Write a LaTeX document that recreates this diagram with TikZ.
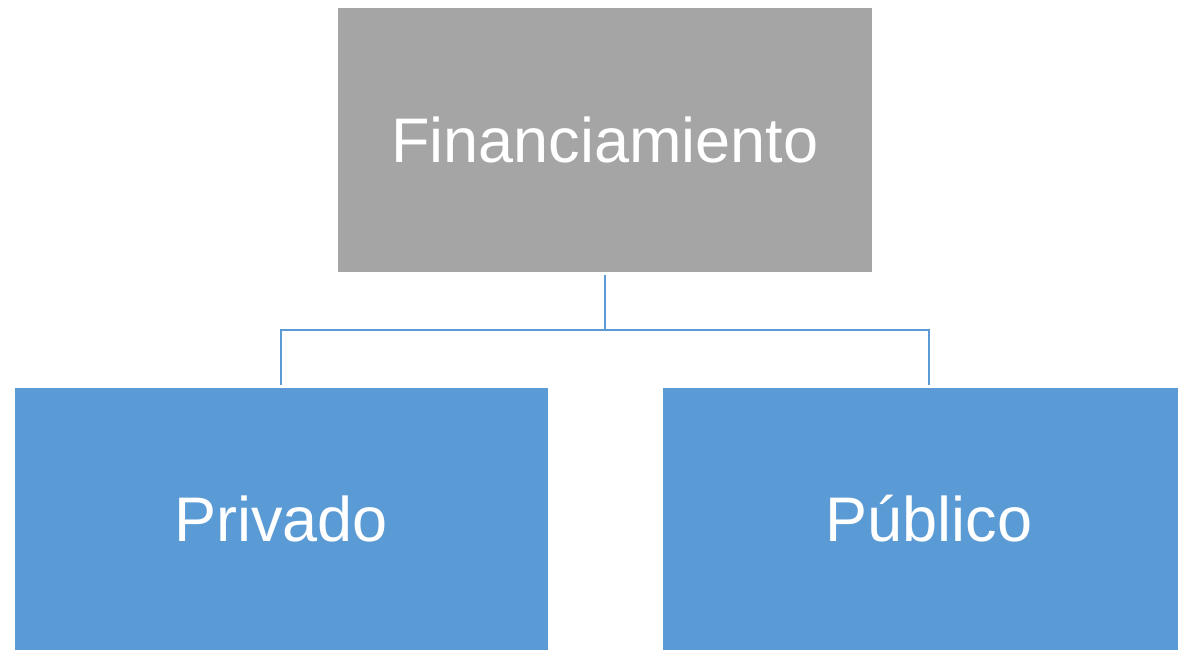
\documentclass[tikz,border=0pt]{standalone}
\usepackage{fontspec}
\setmainfont{Liberation Sans}
\usepackage{xcolor}
\usepackage{tikz}
\definecolor{boxgray}{HTML}{A5A5A5}
\definecolor{boxblue}{HTML}{5B9BD5}

\begin{document}
\begin{tikzpicture}[
  x=1pt, y=1pt,
  every node/.style={rectangle, inner sep=0pt, text=white, font=\fontsize{63}{70}\selectfont},
  level/.style={sibling distance=648pt, level distance=379pt},
  topbox/.style={fill=boxgray, minimum width=534pt, minimum height=264pt},
  subbox/.style={fill=boxblue, minimum width=533pt, minimum height=262pt},
  edge from parent/.style={draw=boxblue, line width=2pt},
  edge from parent path={([yshift=-3pt]\tikzparentnode.south) -- ([yshift=-58pt]\tikzparentnode.south) -| ([yshift=3pt]\tikzchildnode.north)}
]
\clip (0,0) rectangle (1178,650);
\node[topbox] (fin) at (605,510) {Financiamiento}
  child {node[subbox] (priv) {Privado}
  }
  child {node[subbox] (pub) {Público}
  };
\end{tikzpicture}
\end{document}
